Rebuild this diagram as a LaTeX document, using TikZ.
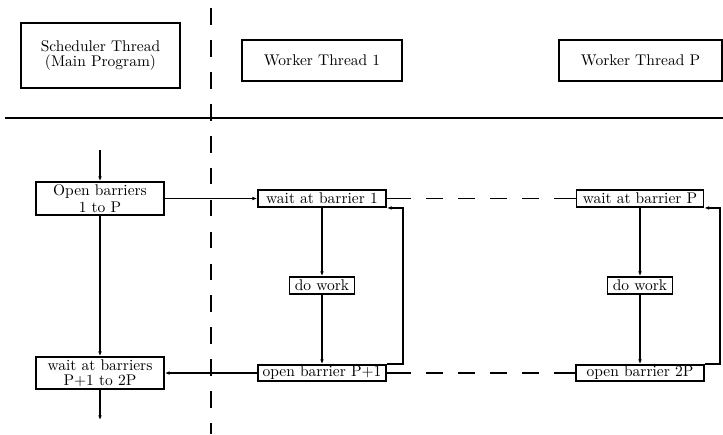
\documentclass[tikz,border=0pt]{standalone}
\usetikzlibrary{arrows.meta}

\begin{document}
\begin{tikzpicture}[x=0.645pt, y=-0.645pt,
    box/.style={draw, line width=1.2pt, inner sep=0pt, align=center},
    flow/.style={line width=1.1pt, -{Latex[length=3pt,width=2.4pt]}},
    thinflow/.style={line width=0.5pt, -{Latex[length=3pt,width=2.4pt]}},
    rule/.style={line width=1.2pt},
    divider/.style={line width=1.2pt, dash pattern=on 10.8pt off 9.8pt},
    gapline/.style={dash pattern=on 15.5pt off 9.7pt on 11pt off 9.7pt on 11pt off 9.7pt on 11pt off 9.7pt on 11pt off 9.7pt on 15.5pt}]

  \useasboundingbox (0,0) rectangle (723,434);

  % header row: thread titles
  \node[box, minimum width=102.6pt, minimum height=41.9pt] (sched) at (100.5,55.5)
    {Scheduler Thread\\[-2.5pt](Main Program)};
  \node[box, minimum width=103.2pt, minimum height=26.4pt] (wthA) at (322,60.5) {Worker Thread 1};
  \node[box, minimum width=105.1pt, minimum height=26.4pt] (wthP) at (640.5,60.5) {Worker Thread P};

  % header separator and column divider
  \coordinate (ruleL) at (5,118);
  \coordinate (ruleR) at (723,118);
  \draw[rule] (ruleL) -- (ruleR);
  \coordinate (divT) at (211,8);
  \coordinate (divB) at (211,434);
  \draw[divider] (divT) -- (divB);

  % scheduler column
  \node[box, minimum width=82.6pt, minimum height=21.3pt] (ob) at (100,198.5)
    {Open barriers\\[-1.2pt]1 to P};
  \node[box, minimum width=82.6pt, minimum height=20.6pt] (wb) at (100,373)
    {wait at barriers\\[-2.3pt]P+1 to 2P};
  \coordinate (start) at (100,150);
  \coordinate (finish) at (100,420);

  % worker 1 column
  \node[box, minimum width=82.6pt, minimum height=11pt] (waitA) at (322,198.5) {wait at barrier 1};
  \node[box, minimum width=41.9pt, minimum height=11pt] (workA) at (322,285.5) {do work};
  \node[box, minimum width=82.6pt, minimum height=10.3pt] (openA) at (322,373) {open barrier P+1};

  % worker P column
  \node[box, minimum width=81.9pt, minimum height=11pt] (waitP) at (640,198.5) {wait at barrier P};
  \node[box, minimum width=41.9pt, minimum height=11pt] (workP) at (640,285.5) {do work};
  \node[box, minimum width=82.6pt, minimum height=10.3pt] (openP) at (640,373) {open barrier 2P};

  % scheduler flow
  \draw[flow] (start) -- (ob.north);
  \draw[flow] (ob.south) -- (wb.north);
  \draw[flow] (wb.south) -- (finish);
  \draw[thinflow] (ob.east) -- (waitA.west);
  \draw[flow] (openA.west) -- (wb.east);

  % worker flows
  \draw[flow] (waitA.south) -- (workA.north);
  \draw[flow] (workA.south) -- (openA.north);
  \draw[flow] (openA.north east) -- ++(16,0) |- (waitA.south east);
  \draw[flow] (waitP.south) -- (workP.north);
  \draw[flow] (workP.south) -- (openP.north);
  \draw[flow] (openP.north east) -- ++(15,0) |- (waitP.south east);

  % links across the elided workers
  \draw[line width=0.5pt, gapline] (waitA.east) -- (waitP.west);
  \draw[line width=1.1pt, gapline] (openA.east) -- (openP.west);
\end{tikzpicture}
\end{document}
